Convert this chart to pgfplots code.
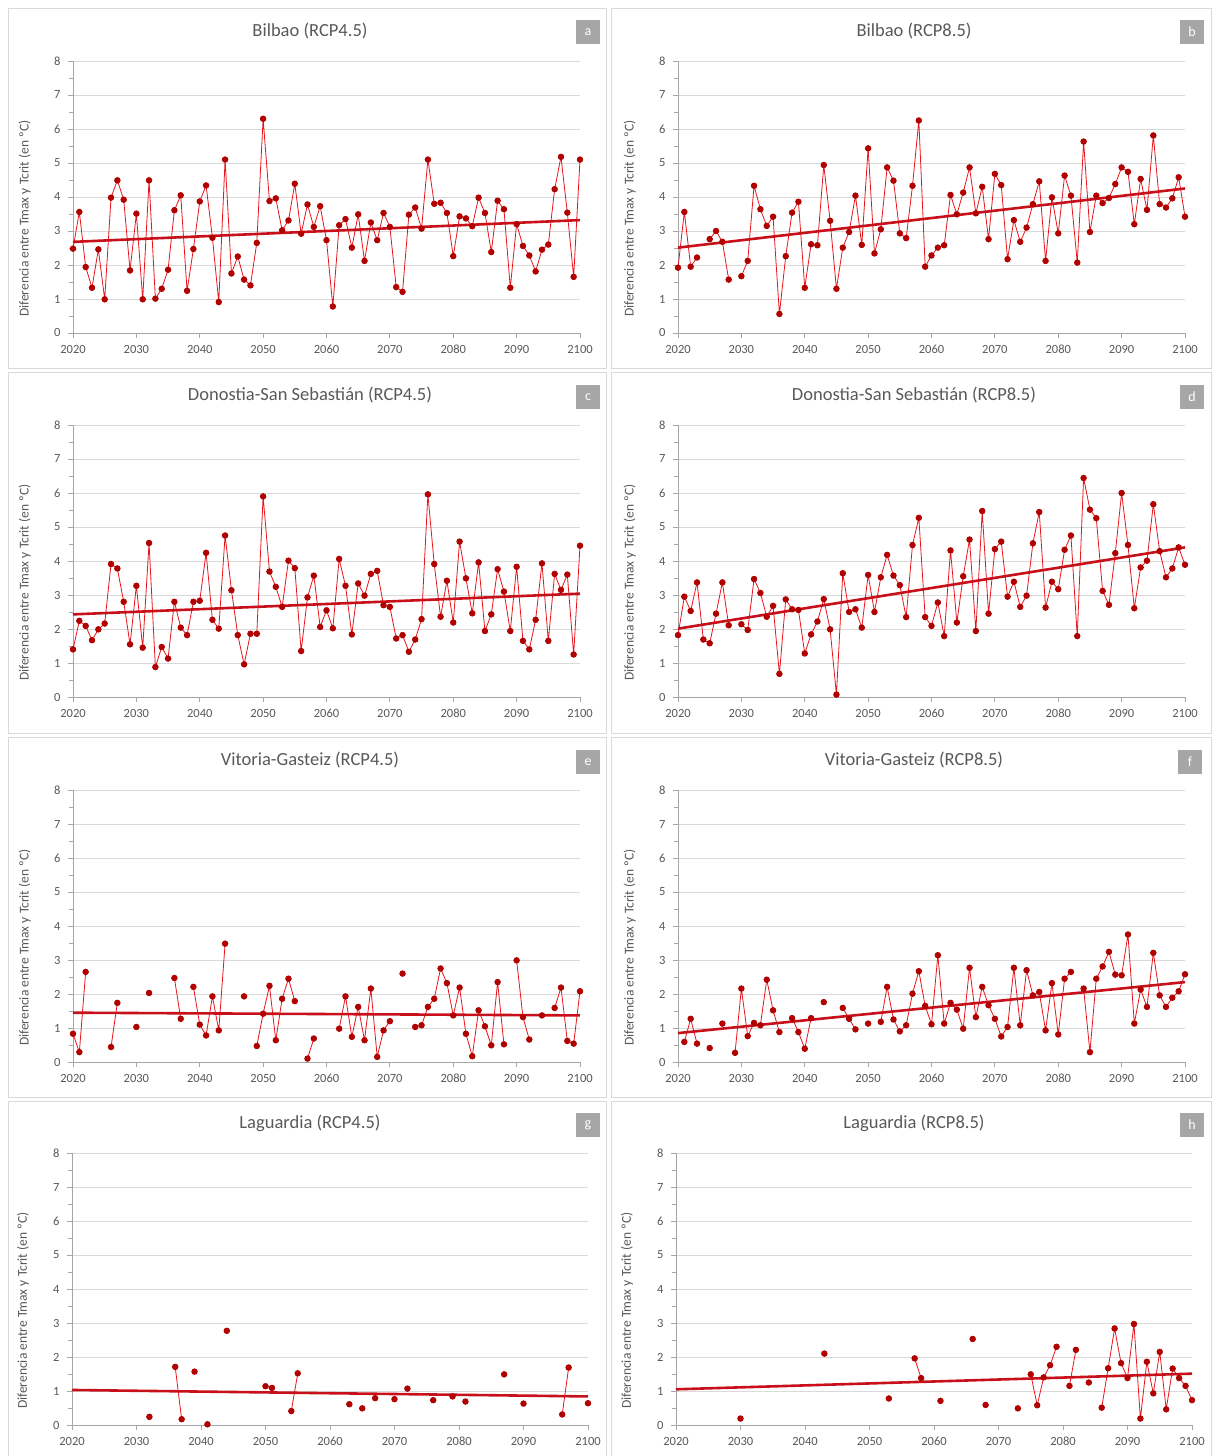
\documentclass[border=0pt]{standalone}
\usepackage{fontspec}
\setmainfont{Carlito}
\usepackage{pgfplots}
\usepackage{pgfplotstable}
\pgfplotsset{compat=1.18}
\definecolor{txt}{HTML}{595959}
\definecolor{gridc}{HTML}{D9D9D9}
\definecolor{axl}{HTML}{A6A6A6}
\definecolor{dred}{HTML}{B00000}
\definecolor{lred}{HTML}{E8141B}
\definecolor{trd}{HTML}{C8101A}
\definecolor{bx}{HTML}{A6A6A6}
\definecolor{framec}{HTML}{D9D9D9}

\pgfplotstableread{
year a b c d e f g h
2020 2.48 1.92 1.40 1.82 0.83 nan nan nan
2021 3.56 3.56 2.24 2.95 0.29 0.59 nan nan
2022 1.94 1.95 2.09 2.53 2.65 1.27 nan nan
2023 1.33 2.22 1.67 3.37 nan 0.54 nan nan
2024 2.46 nan 1.99 1.69 nan nan nan nan
2025 0.99 2.76 2.16 1.58 nan 0.41 nan nan
2026 3.98 3.00 3.91 2.45 0.44 nan nan nan
2027 4.49 2.68 3.78 3.37 1.74 1.13 nan nan
2028 3.92 1.57 2.80 2.11 nan nan nan nan
2029 1.84 nan 1.55 nan nan 0.27 nan nan
2030 3.51 1.67 3.27 2.14 1.03 2.16 nan 0.19
2031 0.99 2.12 1.45 1.97 nan 0.76 nan nan
2032 4.49 4.33 4.53 3.47 2.03 1.15 0.24 nan
2033 1.01 3.64 0.88 3.06 nan 1.08 nan nan
2034 1.30 3.15 1.47 2.36 nan 2.42 nan nan
2035 1.86 3.42 1.13 2.68 nan 1.52 nan nan
2036 3.61 0.56 2.80 0.68 2.47 0.88 1.71 nan
2037 4.05 2.26 2.04 2.87 1.27 nan 0.17 nan
2038 1.24 3.54 1.82 2.58 nan 1.29 nan nan
2039 2.47 3.86 2.80 2.56 2.21 0.88 1.57 nan
2040 3.87 1.33 2.83 1.28 1.10 0.39 nan nan
2041 4.34 2.61 4.24 1.84 0.78 1.29 0.02 nan
2042 2.80 2.58 2.27 2.22 1.93 nan nan nan
2043 0.91 4.94 2.01 2.88 0.93 1.76 nan 2.10
2044 5.10 3.30 4.75 1.99 3.48 nan 2.77 nan
2045 1.75 1.30 3.14 0.07 nan nan nan nan
2046 2.25 2.51 1.82 3.64 nan 1.59 nan nan
2047 1.57 2.97 0.96 2.50 1.93 1.27 nan nan
2048 1.40 4.04 1.86 2.58 nan 0.96 nan nan
2049 2.65 2.59 1.86 2.04 0.47 nan nan nan
2050 6.30 5.43 5.90 3.59 1.42 1.13 1.14 nan
2051 3.88 2.34 3.69 2.50 2.24 nan 1.09 nan
2052 3.96 3.05 3.24 3.52 0.64 1.18 nan nan
2053 3.02 4.87 2.65 4.18 1.86 2.21 nan 0.78
2054 3.31 4.48 4.01 3.57 2.45 1.25 0.41 nan
2055 4.39 2.93 3.79 3.29 1.79 0.90 1.52 nan
2056 2.92 2.79 1.35 2.35 nan 1.08 nan nan
2057 3.78 4.33 2.93 4.47 0.10 2.01 nan 1.96
2058 3.12 6.25 3.57 5.27 0.69 2.67 nan 1.38
2059 3.73 1.95 2.06 2.35 nan 1.65 nan nan
2060 2.73 2.28 2.55 2.09 nan 1.11 nan nan
2061 0.78 2.51 2.02 2.78 nan 3.14 nan 0.71
2062 3.17 2.58 4.06 1.79 0.98 1.13 nan nan
2063 3.35 4.06 3.27 4.31 1.93 1.74 0.61 nan
2064 2.51 3.49 1.84 2.19 0.74 1.54 nan nan
2065 3.49 4.13 3.34 3.55 1.62 0.98 0.49 nan
2066 2.12 4.87 2.98 4.63 0.64 2.77 nan 2.53
2067 3.25 3.52 3.62 1.94 2.16 1.32 0.79 nan
2068 2.73 4.30 3.71 5.47 0.15 2.21 nan 0.59
2069 3.53 2.76 2.70 2.45 0.93 1.67 nan nan
2070 3.12 4.68 2.65 4.35 1.20 1.27 0.76 nan
2071 1.35 4.35 1.72 4.57 nan 0.75 nan nan
2072 1.21 2.17 1.82 2.95 2.60 1.03 1.07 nan
2073 3.48 3.32 1.33 3.39 nan 2.77 nan 0.49
2074 3.69 2.68 1.69 2.65 1.03 1.08 nan nan
2075 3.07 3.10 2.29 2.98 1.08 2.70 nan 1.49
2076 5.10 3.79 5.96 4.52 1.62 1.96 0.73 0.58
2077 3.80 4.46 3.91 5.44 1.86 2.06 nan 1.40
2078 3.83 2.12 2.36 2.63 2.75 0.93 nan 1.76
2079 3.53 3.99 3.42 3.39 2.32 2.32 0.84 2.30
2080 2.26 2.93 2.19 3.17 1.37 0.81 nan nan
2081 3.43 4.63 4.57 4.33 2.19 2.45 0.69 1.15
2082 3.37 4.04 3.49 4.75 0.83 2.65 nan 2.21
2083 3.14 2.07 2.46 1.79 0.17 nan nan nan
2084 3.98 5.63 3.96 6.44 1.52 2.16 nan 1.25
2085 3.53 2.97 1.94 5.51 1.05 0.29 nan nan
2086 2.38 4.04 2.43 5.26 0.49 2.45 nan 0.51
2087 3.89 3.82 3.76 3.12 2.35 2.81 1.49 1.67
2088 3.64 3.97 3.10 2.71 0.52 3.24 nan 2.84
2089 1.33 4.38 1.94 4.23 nan 2.57 nan 1.82
2090 3.20 4.87 3.83 6.00 2.99 2.55 0.63 1.38
2091 2.56 4.74 1.65 4.47 1.32 3.75 nan 2.97
2092 2.28 3.20 1.40 2.61 0.66 1.13 nan 0.19
2093 1.81 4.53 2.27 3.81 nan 2.13 nan 1.86
2094 2.45 3.62 3.93 4.01 1.37 1.62 nan 0.93
2095 2.60 5.81 1.65 5.67 nan 3.21 nan 2.15
2096 4.23 3.79 3.62 4.29 1.59 1.96 0.31 0.46
2097 5.18 3.69 3.15 3.52 2.19 1.62 1.69 1.66
2098 3.54 3.96 3.60 3.78 0.62 1.89 nan 1.38
2099 1.65 4.58 1.25 4.40 0.54 2.08 nan 1.15
2100 5.10 3.42 4.45 3.89 2.08 2.58 0.64 0.73
}\data

\pgfplotsset{panel/.style={
  scale only axis, width=507pt, height=272pt, anchor=south west,
  xmin=2020, xmax=2100, ymin=0, ymax=8,
  xtick={2020,2030,...,2100}, ytick={0,1,...,8}, minor y tick num=1,
  xticklabels={2020,2030,2040,2050,2060,2070,2080,2090,2100},
  ymajorgrids, major grid style={gridc, line width=0.9pt},
  axis x line*=bottom, axis y line*=left,
  axis line style={axl, line width=0.9pt},
  every tick/.style={axl, line width=0.9pt},
  major tick length=5pt, minor tick length=4pt,
  tick align=outside,
  /pgf/number format/assume math mode=true,
  /pgf/number format/1000 sep={},
  x tick label style={font=\fontsize{12.5}{12.5}\selectfont, text=txt, text height=9pt, text depth=0pt, anchor=north, yshift=-3pt},
  y tick label style={font=\fontsize{12.5}{12.5}\selectfont, text=txt, xshift=-4pt},
  ylabel={Diferencia entre Tmax y Tcrit (en ºC)},
  ylabel style={font=\fontsize{13.5}{13.5}\selectfont, text=txt, at={(axis description cs:-0.095,0.42)}, anchor=center},
  unbounded coords=jump,
  clip=false,
}}
\pgfplotsset{
  dat/.style={lred, line width=0.8pt, mark=*, mark size=2.8pt, mark options={fill=dred, draw=dred, solid}},
  trend/.style={trd, line width=2.6pt, no marks},
}

\begin{document}
\begin{tikzpicture}[x=1pt,y=1pt]
\useasboundingbox[fill=white] (0,0) rectangle (1213,1456);
% panel frames
\foreach \yt/\yb in {1448/1088, 1084/723, 719/359, 355/0}{
  \draw[framec, line width=0.9pt] (8,\yb) rectangle (606,\yt);
  \draw[framec, line width=0.9pt] (611,\yb) rectangle (1211,\yt);
}
% titles
\tikzset{ttl/.style={font=\fontsize{18.5}{18.5}\selectfont, text=txt, anchor=center}}
\node[ttl] at (310,1425) {Bilbao (RCP4.5)};
\node[ttl] at (914,1425) {Bilbao (RCP8.5)};
\node[ttl] at (310,1061) {Donostia-San Sebastián (RCP4.5)};
\node[ttl] at (914,1061) {Donostia-San Sebastián (RCP8.5)};
\node[ttl] at (310,696) {Vitoria-Gasteiz (RCP4.5)};
\node[ttl] at (914,696) {Vitoria-Gasteiz (RCP8.5)};
\node[ttl] at (310,333) {Laguardia (RCP4.5)};
\node[ttl] at (914,333) {Laguardia (RCP8.5)};
% letter boxes
\tikzset{lbx/.style={fill=bx, text=white, minimum width=24pt, minimum height=24pt, inner sep=0pt, font=\fontsize{14}{14}\selectfont}}
\node[lbx] at (588,1424) {a};
\node[lbx] at (1192,1424) {b};
\node[lbx] at (588,1059) {c};
\node[lbx] at (1192,1059) {d};
\node[lbx] at (588,694) {e};
\node[lbx] at (1190,694) {f};
\node[lbx] at (588,331) {g};
\node[lbx] at (1192,331) {h};

\begin{axis}[panel, at={(73pt,1123pt)}]
\addplot[dat] table[x=year,y=a] {\data};
\addplot[trend] coordinates {(2020,2.68) (2100,3.32)};
\end{axis}
\begin{axis}[panel, at={(678pt,1123pt)}]
\addplot[dat] table[x=year,y=b] {\data};
\addplot[trend] coordinates {(2020,2.51) (2100,4.25)};
\end{axis}
\begin{axis}[panel, at={(73pt,759pt)}]
\addplot[dat] table[x=year,y=c] {\data};
\addplot[trend] coordinates {(2020,2.43) (2100,3.04)};
\end{axis}
\begin{axis}[panel, at={(678pt,759pt)}]
\addplot[dat] table[x=year,y=d] {\data};
\addplot[trend] coordinates {(2020,2.01) (2100,4.40)};
\end{axis}
\begin{axis}[panel, at={(73pt,394pt)}]
\addplot[dat] table[x=year,y=e] {\data};
\addplot[trend] coordinates {(2020,1.45) (2100,1.37)};
\end{axis}
\begin{axis}[panel, at={(678pt,394pt)}]
\addplot[dat] table[x=year,y=f] {\data};
\addplot[trend] coordinates {(2020,0.85) (2100,2.35)};
\end{axis}
\begin{axis}[panel, at={(72pt,31pt)}, width=516pt]
\addplot[dat] table[x=year,y=g] {\data};
\addplot[trend] coordinates {(2020,1.03) (2100,0.84)};
\end{axis}
\begin{axis}[panel, at={(676pt,31pt)}, width=516pt]
\addplot[dat] table[x=year,y=h] {\data};
\addplot[trend] coordinates {(2020,1.05) (2100,1.51)};
\end{axis}
\end{tikzpicture}
\end{document}
